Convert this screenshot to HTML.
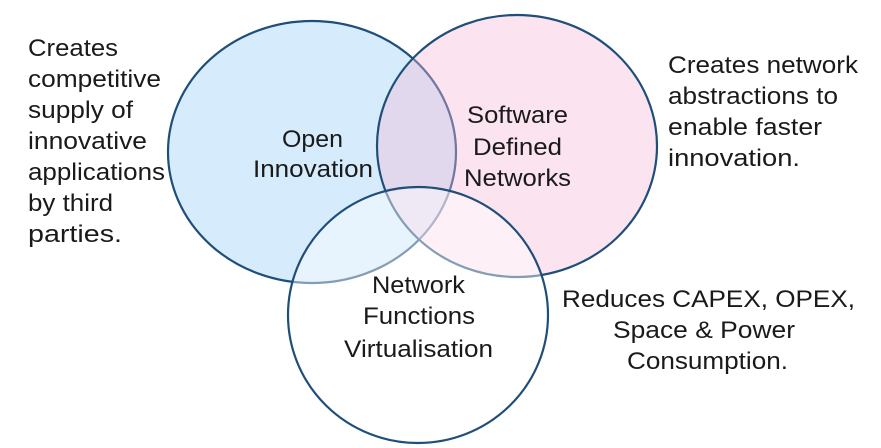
<!DOCTYPE html>
<html><head><meta charset="utf-8"><style>
html,body{margin:0;padding:0;background:#fff;width:881px;height:448px;overflow:hidden}
svg text{font-family:"Liberation Sans",Arial,sans-serif;fill:#1a1a1a}
</style></head><body>
<svg width="881" height="448" viewBox="0 0 881 448" xmlns="http://www.w3.org/2000/svg">
<ellipse cx="312" cy="152" rx="144" ry="131" fill="#d6ebfb" stroke="#1f4e79" stroke-width="2.2"/>
<ellipse cx="517" cy="146" rx="140" ry="131" fill="rgb(245,186,216)" fill-opacity="0.39" stroke="#1f4e79" stroke-width="2.2"/>
<ellipse cx="418" cy="315" rx="130" ry="128" fill="#fff" fill-opacity="0.45" stroke="#1f4e79" stroke-width="2.2"/>
<g font-size="24">
<text x="28" y="56" textLength="90" lengthAdjust="spacingAndGlyphs">Creates</text>
<text x="28" y="87" textLength="133" lengthAdjust="spacingAndGlyphs">competitive</text>
<text x="28" y="118" textLength="105" lengthAdjust="spacingAndGlyphs">supply of</text>
<text x="28" y="149" textLength="119" lengthAdjust="spacingAndGlyphs">innovative</text>
<text x="28" y="180" textLength="137" lengthAdjust="spacingAndGlyphs">applications</text>
<text x="28" y="211" textLength="85" lengthAdjust="spacingAndGlyphs">by third</text>
<text x="28" y="242" textLength="94" lengthAdjust="spacingAndGlyphs">parties.</text>

<text x="668" y="73" textLength="190" lengthAdjust="spacingAndGlyphs">Creates network</text>
<text x="668" y="104" textLength="170" lengthAdjust="spacingAndGlyphs">abstractions to</text>
<text x="668" y="135" textLength="154" lengthAdjust="spacingAndGlyphs">enable faster</text>
<text x="668" y="166" textLength="132" lengthAdjust="spacingAndGlyphs">innovation.</text>

<text x="562" y="307" textLength="293" lengthAdjust="spacingAndGlyphs">Reduces CAPEX, OPEX,</text>
<text x="613" y="338" textLength="182" lengthAdjust="spacingAndGlyphs">Space &amp; Power</text>
<text x="627" y="369" textLength="161" lengthAdjust="spacingAndGlyphs">Consumption.</text>

<text x="282" y="147" textLength="61" lengthAdjust="spacingAndGlyphs">Open</text>
<text x="253" y="177" textLength="120" lengthAdjust="spacingAndGlyphs">Innovation</text>
<text x="467" y="123" textLength="101" lengthAdjust="spacingAndGlyphs">Software</text>
<text x="473" y="155" textLength="89" lengthAdjust="spacingAndGlyphs">Defined</text>
<text x="464" y="186" textLength="107" lengthAdjust="spacingAndGlyphs">Networks</text>
<text x="372" y="293" textLength="93" lengthAdjust="spacingAndGlyphs">Network</text>
<text x="363" y="324" textLength="112" lengthAdjust="spacingAndGlyphs">Functions</text>
<text x="344" y="357" textLength="149" lengthAdjust="spacingAndGlyphs">Virtualisation</text>
</g>
</svg>
</body></html>
